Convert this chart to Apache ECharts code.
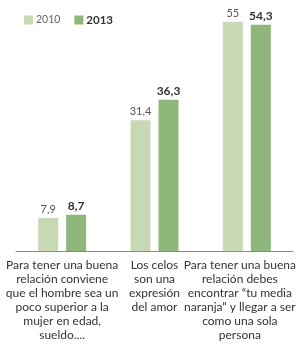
<!DOCTYPE html>
<html>
<head>
<meta charset="utf-8">
<script src="https://cdn.jsdelivr.net/npm/echarts@6/dist/echarts.min.js"></script>
<style>
  html, body { margin: 0; padding: 0; background: #fff; }
  #chart { width: 301px; height: 345px; }
</style>
</head>
<body>
<div id="chart"></div>
<script>
const categories = [
  'Para tener una buena\nrelación conviene\nque el hombre sea un\npoco superior a la\nmujer en edad,\nsueldo....',
  'Los celos\nson una\nexpresión\ndel amor',
  'Para tener una buena\nrelación debes\nencontrar “tu media\nnaranja” y llegar a ser\ncomo una sola\npersona'
];
const values2010 = [7.9, 31.4, 55];
const values2013 = [8.7, 36.3, 54.3];

const fmt = (p) => String(p.value).replace('.', ',');

let chart = echarts.init(document.getElementById('chart'));

let options = {
  animation: false,
  textStyle: { fontFamily: 'Lato' },
  legend: {
    left: 19,
    top: 9,
    itemWidth: 9,
    itemHeight: 9,
    itemGap: 14,
    icon: 'rect',
    formatter: (name) => name === '2013' ? '{b|' + name + '}' : name,
    textStyle: {
      fontSize: 10.5,
      color: '#666',
      padding: [0, 0, 0, -2],
      rich: { b: { fontWeight: 'bold', color: '#333', fontSize: 11.5 } }
    },
    data: ['2010', '2013']
  },
  grid: {
    left: 16,
    right: 8,
    top: 1,
    bottom: 94,
    outerBoundsMode: 'none',
    containLabel: false
  },
  xAxis: {
    type: 'category',
    data: categories,
    axisTick: { show: false },
    axisLine: { lineStyle: { color: '#888', width: 1 } },
    axisLabel: {
      interval: 0,
      color: '#333',
      fontSize: 12,
      lineHeight: 14,
      margin: 7,
      formatter: (v, i) => i === 2 ? '{r|' + v + '}' : v,
      rich: { r: { fontSize: 12, lineHeight: 14, color: '#333', padding: [0, 14, 0, 0] } }
    }
  },
  yAxis: {
    type: 'value',
    min: 0,
    max: 60,
    show: false
  },
  series: [
    {
      name: '2010',
      type: 'bar',
      data: values2010,
      barWidth: 20,
      barGap: '40%',
      itemStyle: { color: '#c6d9b4' },
      label: {
        show: true,
        position: 'top',
        distance: 3,
        fontSize: 11,
        color: '#555',
        formatter: fmt
      }
    },
    {
      name: '2013',
      type: 'bar',
      data: values2013,
      barWidth: 20,
      itemStyle: { color: '#8fb77c' },
      label: {
        show: true,
        position: 'top',
        distance: 3,
        fontSize: 12,
        fontWeight: 'bold',
        color: '#333',
        formatter: fmt
      }
    }
  ]
};

chart.setOption(options);
</script>
</body>
</html>
